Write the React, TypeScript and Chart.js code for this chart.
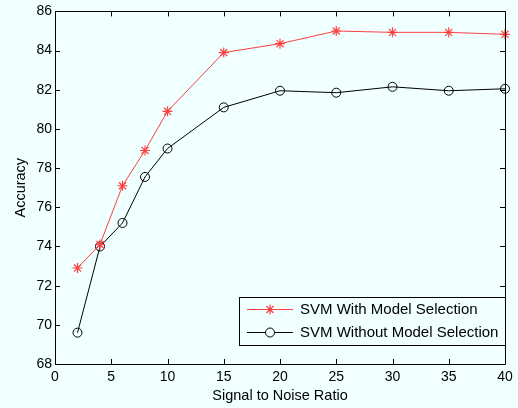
import React, { useEffect, useRef } from "react";
import { Chart, registerables } from "chart.js";

Chart.register(...registerables);

const snr = [2, 4, 6, 8, 10, 15, 20, 25, 30, 35, 40];
const withSelection = [72.9, 74.1, 77.1, 78.9, 80.9, 83.9, 84.35, 85.0, 84.93, 84.93, 84.83];
const withoutSelection = [69.6, 74.0, 75.2, 77.55, 79.0, 81.1, 81.95, 81.85, 82.15, 81.95, 82.05];
const seriesLabels = ["SVM With Model Selection", "SVM Without Model Selection"];
const xTitle = "Signal to Noise Ratio";
const yTitle = "Accuracy";

const BG = "#f0ffff";
const RED = "#ff4040";
const FONT = "'Liberation Sans', Arial, Helvetica, sans-serif";
const FS = 14;

const framePlugin = {
  id: "frame",
  afterDatasetsDraw(chart: any) {
    const { ctx, chartArea: a, scales } = chart;
    const xs = scales.x;
    const ys = scales.y;
    ctx.save();
    ctx.strokeStyle = "#000";
    ctx.lineWidth = 1;
    ctx.beginPath();
    ctx.rect(Math.round(a.left) + 0.5, Math.round(a.top) + 0.5, Math.round(a.right - a.left), Math.round(a.bottom - a.top));
    ctx.stroke();
    const tl = 5;
    ctx.beginPath();
    xs.ticks.forEach((t: any) => {
      const px = Math.round(xs.getPixelForValue(t.value)) + 0.5;
      ctx.moveTo(px, a.bottom);
      ctx.lineTo(px, a.bottom - tl);
      ctx.moveTo(px, a.top);
      ctx.lineTo(px, a.top + tl);
    });
    ys.ticks.forEach((t: any) => {
      const py = Math.round(ys.getPixelForValue(t.value)) + 0.5;
      ctx.moveTo(a.left, py);
      ctx.lineTo(a.left + tl, py);
      ctx.moveTo(a.right, py);
      ctx.lineTo(a.right - tl, py);
    });
    ctx.stroke();

    // legend
    const bx = 239.5, by = 297.5, bw = 266, bh = 48;
    ctx.fillStyle = BG;
    ctx.fillRect(bx, by, bw, bh);
    ctx.strokeRect(bx, by, bw, bh);
    const rows = [309.5, 332.5];
    chart.data.datasets.forEach((ds: any, i: number) => {
      const y = rows[i];
      ctx.strokeStyle = ds.borderColor;
      ctx.lineWidth = 1;
      ctx.beginPath();
      ctx.moveTo(247, y);
      ctx.lineTo(293, y);
      ctx.stroke();
      ctx.beginPath();
      if (ds.pointStyle === "star") {
        const r = 5;
        ctx.lineWidth = 1.2;
        for (let k = 0; k < 4; k++) {
          const ang = (k * Math.PI) / 4;
          ctx.moveTo(270 - r * Math.sin(ang), y - r * Math.cos(ang));
          ctx.lineTo(270 + r * Math.sin(ang), y + r * Math.cos(ang));
        }
        ctx.stroke();
      } else {
        ctx.fillStyle = BG;
        ctx.arc(270, y, 4.5, 0, Math.PI * 2);
        ctx.fill();
        ctx.stroke();
      }
      ctx.fillStyle = "#000";
      ctx.font = "15px " + FONT;
      ctx.textBaseline = "middle";
      ctx.textAlign = "left";
      ctx.fillText(ds.label, 300, y + 0.5);
    });
    ctx.restore();
  },
};

export default function App() {
  const ref = useRef<HTMLCanvasElement>(null);
  useEffect(() => {
    document.body.style.margin = "0";
    document.body.style.background = BG;
    const chart = new Chart(ref.current!, {
      type: "line",
      data: {
        datasets: [
          {
            label: seriesLabels[0],
            data: snr.map((x, i) => ({ x, y: withSelection[i] })),
            borderColor: RED,
            backgroundColor: RED,
            borderWidth: 1,
            pointStyle: "star",
            pointRadius: 5,
            pointBorderWidth: 1.2,
            pointBorderColor: RED,
            clip: false,
          } as any,
          {
            label: seriesLabels[1],
            data: snr.map((x, i) => ({ x, y: withoutSelection[i] })),
            borderColor: "#000",
            backgroundColor: "#000",
            borderWidth: 1,
            pointStyle: "circle",
            pointRadius: 4.5,
            pointBorderWidth: 1,
            pointBorderColor: "#000",
            pointBackgroundColor: "rgba(0,0,0,0)",
            clip: false,
          } as any,
        ],
      },
      options: {
        responsive: false,
        animation: false,
        devicePixelRatio: 1,
        layout: { padding: { top: 10, right: 13, left: 0, bottom: 0 } },
        plugins: { legend: { display: false }, tooltip: { enabled: false } },
        scales: {
          x: {
            type: "linear",
            min: 0,
            max: 40,
            grid: { display: false, drawTicks: false },
            border: { display: false },
            ticks: { stepSize: 5, color: "#000", padding: 5, font: { family: FONT, size: FS }, maxRotation: 0 },
            title: { display: true, text: xTitle, color: "#000", font: { family: FONT, size: 14.5 }, padding: { top: 4, bottom: 3 } },
            afterFit: (s: any) => {
              s.height = 44;
            },
          },
          y: {
            type: "linear",
            min: 68,
            max: 86,
            grid: { display: false, drawTicks: false },
            border: { display: false },
            ticks: { stepSize: 2, color: "#000", padding: 3, font: { family: FONT, size: FS } },
            title: { display: true, text: yTitle, color: "#000", font: { family: FONT, size: 14.5 }, padding: { top: 12, bottom: 4 } },
            afterFit: (s: any) => {
              s.width = 55;
            },
          },
        },
      },
      plugins: [framePlugin],
    });
    return () => chart.destroy();
  }, []);
  return (
    <div style={{ width: 518, height: 408, background: BG }}>
      <canvas ref={ref} width={518} height={408} style={{ display: "block" }} />
    </div>
  );
}
